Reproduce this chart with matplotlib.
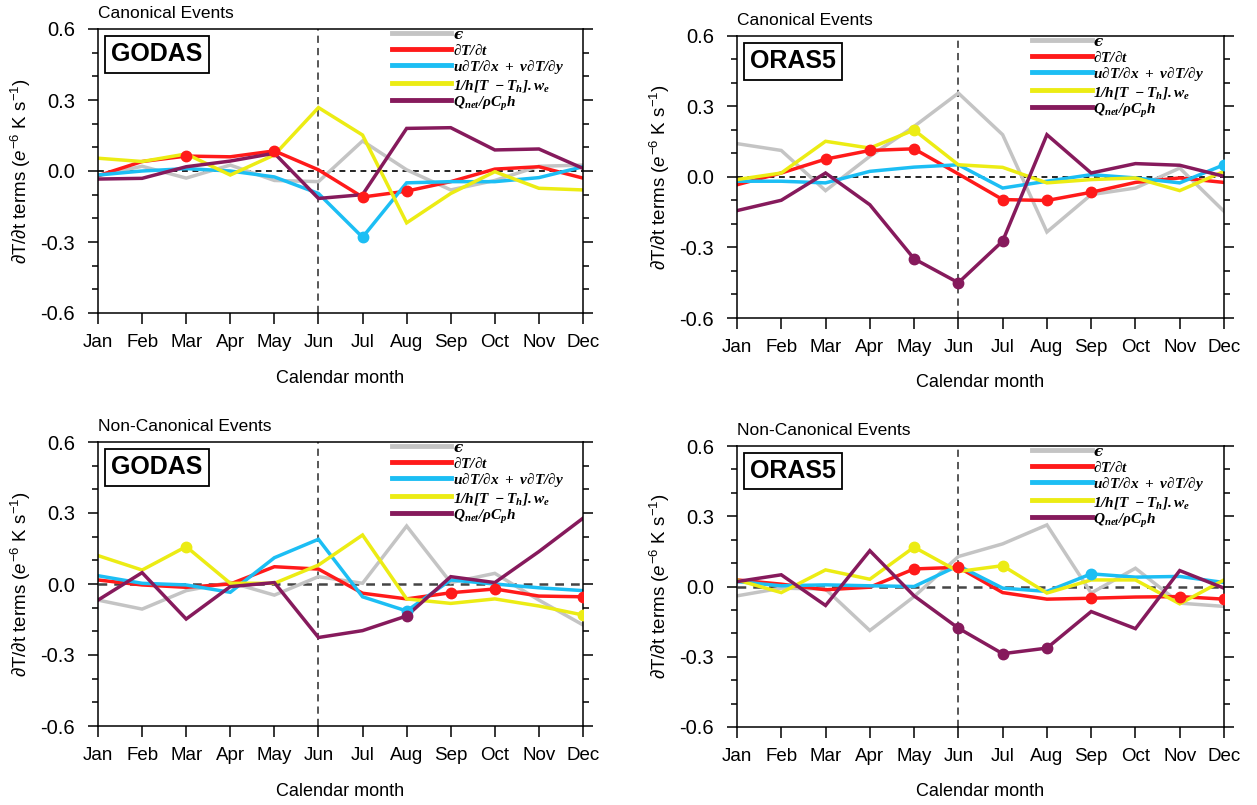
import matplotlib
matplotlib.use("Agg")
import matplotlib.pyplot as plt
from matplotlib.ticker import MultipleLocator, FormatStrFormatter

# ================= CONFIGURATION =================
plt.rcParams["font.family"] = ["Liberation Sans", "DejaVu Sans"]
plt.rcParams["mathtext.fontset"] = "custom"
plt.rcParams["mathtext.rm"] = "Liberation Sans"
plt.rcParams["mathtext.it"] = "Liberation Sans:italic"
plt.rcParams["mathtext.bf"] = "Liberation Serif:italic:bold"

FIG_W, FIG_H = 1257, 805

MONTHS = ["Jan", "Feb", "Mar", "Apr", "May", "Jun",
          "Jul", "Aug", "Sep", "Oct", "Nov", "Dec"]

TERM_LABELS = [
    "\u03f5",
    r"$\mathbf{\partial T/\partial t}$",
    r"$\mathbf{u\partial T/\partial x\ +\ v\partial T/\partial y}$",
    r"$\mathbf{1/h[T\ -T_h].w_e}$",
    r"$\mathbf{Q_{net}/\rho C_p h}$",
]
TERM_COLORS = ["#C4C4C4", "#FF1A1A", "#1CBEF4", "#ECEC14", "#861A5C"]

# --- GODAS, canonical events (heat budget terms, 1e-6 K/s) ---
god_can_eps = [-0.02, 0.02, -0.03, 0.025, -0.04, -0.045, 0.127, 0.005, -0.08, -0.04, 0.02, 0.025]
god_can_dtdt = [-0.02, 0.04, 0.063, 0.06, 0.085, 0.005, -0.11, -0.085, -0.045, 0.008, 0.018, -0.03]
god_can_adv = [-0.017, 0.0, 0.01, 0.0, -0.025, -0.095, -0.28, -0.05, -0.045, -0.045, -0.028, 0.018]
god_can_ent = [0.054, 0.04, 0.072, -0.017, 0.068, 0.268, 0.152, -0.219, -0.095, -0.003, -0.073, -0.08]
god_can_qnet = [-0.034, -0.031, 0.018, 0.042, 0.075, -0.116, -0.10, 0.18, 0.183, 0.089, 0.093, 0.011]
god_can_sig = [[], [2, 4, 6, 7], [6], [], []]

# --- ORAS5, canonical events ---
ora_can_eps = [0.142, 0.113, -0.058, 0.088, 0.215, 0.357, 0.18, -0.234, -0.075, -0.047, 0.038, -0.146]
ora_can_dtdt = [-0.033, 0.017, 0.076, 0.113, 0.12, 0.013, -0.096, -0.10, -0.065, -0.023, -0.004, -0.023]
ora_can_adv = [-0.018, -0.018, -0.025, 0.024, 0.042, 0.052, -0.047, -0.018, 0.01, -0.004, -0.025, 0.052]
ora_can_ent = [-0.011, 0.017, 0.152, 0.123, 0.20, 0.052, 0.041, -0.025, -0.011, -0.004, -0.058, 0.024]
ora_can_qnet = [-0.143, -0.099, 0.017, -0.118, -0.348, -0.45, -0.273, 0.18, 0.017, 0.057, 0.05, 0.003]
ora_can_sig = [[], [2, 3, 4, 6, 7, 8], [11], [4], [4, 5, 6]]

# --- GODAS, non-canonical events ---
god_non_eps = [-0.068, -0.106, -0.028, 0.007, -0.047, 0.031, 0.003, 0.245, 0.006, 0.045, -0.068, -0.173]
god_non_dtdt = [0.017, -0.004, -0.014, 0.0, 0.073, 0.063, -0.039, -0.063, -0.037, -0.021, -0.051, -0.054]
god_non_adv = [0.035, 0.003, -0.004, -0.035, 0.111, 0.189, -0.054, -0.114, 0.017, 0.0, -0.016, -0.028]
god_non_ent = [0.12, 0.059, 0.158, 0.003, 0.003, 0.08, 0.207, -0.063, -0.082, -0.063, -0.093, -0.131]
god_non_qnet = [-0.068, 0.048, -0.148, -0.011, 0.006, -0.226, -0.197, -0.135, 0.031, 0.006, 0.137, 0.278]
god_non_sig = [[], [8, 9, 11], [7], [2, 11], [7]]

# --- ORAS5, non-canonical events ---
ora_non_eps = [-0.04, -0.007, -0.011, -0.188, -0.043, 0.128, 0.182, 0.263, -0.028, 0.078, -0.071, -0.085]
ora_non_dtdt = [0.028, 0.01, -0.014, -0.003, 0.075, 0.082, -0.026, -0.054, -0.05, -0.045, -0.043, -0.054]
ora_non_adv = [0.021, 0.003, 0.007, 0.003, 0.0, 0.089, -0.007, -0.021, 0.054, 0.04, 0.043, 0.017]
ora_non_ent = [0.028, -0.026, 0.071, 0.031, 0.168, 0.064, 0.089, -0.028, 0.028, 0.028, -0.074, 0.028]
ora_non_qnet = [0.021, 0.05, -0.081, 0.153, -0.04, -0.178, -0.287, -0.263, -0.107, -0.18, 0.068, -0.007]
ora_non_sig = [[], [4, 5, 8, 10, 11], [8], [4, 6], [5, 6, 7]]
# =================================================


def px_rect(left, top, right, bottom):
    """Convert a pixel box (origin top-left) to a figure-fraction rect."""
    return [left / FIG_W, 1 - bottom / FIG_H, (right - left) / FIG_W, (bottom - top) / FIG_H]


def draw_panel(ax, title, product, terms, sig, zero_color, zero_lw):
    x = list(range(len(MONTHS)))

    ax.axvline(5, color="#4A4A4A", lw=1.3, dashes=(4, 2.8), zorder=1)
    ax.axhline(0, color=zero_color, lw=zero_lw, dashes=(3.5, 2.8), zorder=1)

    for vals, idx, color, label in zip(terms, sig, TERM_COLORS, TERM_LABELS):
        ax.plot(x, vals, color=color, lw=2.5, label=label, zorder=2,
                solid_joinstyle="miter")
        if idx:
            ax.plot([x[i] for i in idx], [vals[i] for i in idx], "o",
                    color=color, ms=7.5, zorder=3)

    ax.set_xlim(0, 11)
    ax.set_ylim(-0.6, 0.6)
    ax.set_xticks(x)
    ax.set_xticklabels(MONTHS)
    ax.yaxis.set_major_locator(MultipleLocator(0.3))
    ax.yaxis.set_minor_locator(MultipleLocator(0.1))
    ax.yaxis.set_major_formatter(FormatStrFormatter("%.1f"))

    ax.tick_params(axis="x", which="major", direction="out", length=8, width=1.1,
                   labelsize=13.5, pad=7, top=False)
    ax.tick_params(axis="y", which="major", direction="out", length=7.2, width=1.1,
                   labelsize=14.5, pad=9.5, left=True, right=True)
    ax.tick_params(axis="y", which="minor", direction="out", length=4.3, width=1.1,
                   left=True, right=True)
    for sp in ax.spines.values():
        sp.set_linewidth(1.1)

    ax.set_xlabel("Calendar month", fontsize=13)
    ax.xaxis.set_label_coords(0.5, -65 / 284)
    ax.xaxis.label.set_va("center")
    ax.set_ylabel(r"$\partial$T/$\partial$t terms ($e^{-6}$ K s$^{-1}$)", fontsize=13.5)
    ax.yaxis.set_label_coords(-0.158, 0.5)
    ax.yaxis.label.set_va("center")

    ax.text(0, 1 + 16 / 284, title, transform=ax.transAxes, ha="left", va="center",
            fontsize=12.5)
    ax.text(0.027, 0.953, product, transform=ax.transAxes, ha="left", va="top",
            fontsize=18, fontweight="bold", zorder=5,
            bbox=dict(boxstyle="square,pad=0.25", fc="white", ec="black", lw=1.3))

    leg = ax.legend(loc="upper left", bbox_to_anchor=(0.606, 1.009), frameon=False,
                    fontsize=11, handlelength=3.9, handletextpad=0.1,
                    handleheight=1.2, labelspacing=0.0, borderpad=0, borderaxespad=0)
    for line in leg.get_lines():
        line.set_linewidth(3.5)
    # epsilon key drawn as a plain glyph in a bold oblique face
    eps_text = leg.get_texts()[0]
    eps_text.set_family(["DejaVu Serif", "DejaVu Sans"])
    eps_text.set_weight("bold")
    eps_text.set_style("italic")


# ===================== MAIN ======================
if __name__ == "__main__":
    fig = plt.figure(figsize=(FIG_W / 100, FIG_H / 100), dpi=100)

    ax_tl = fig.add_axes(px_rect(98, 29, 583, 313))
    ax_tr = fig.add_axes(px_rect(737, 36, 1224, 318))
    ax_bl = fig.add_axes(px_rect(98, 442, 583, 726))
    ax_br = fig.add_axes(px_rect(737, 446, 1224, 727))

    draw_panel(ax_tl, "Canonical Events", "GODAS",
               [god_can_eps, god_can_dtdt, god_can_adv, god_can_ent, god_can_qnet],
               god_can_sig, "black", 1.2)
    draw_panel(ax_tr, "Canonical Events", "ORAS5",
               [ora_can_eps, ora_can_dtdt, ora_can_adv, ora_can_ent, ora_can_qnet],
               ora_can_sig, "black", 1.2)
    draw_panel(ax_bl, "Non-Canonical Events", "GODAS",
               [god_non_eps, god_non_dtdt, god_non_adv, god_non_ent, god_non_qnet],
               god_non_sig, "#454545", 1.8)
    draw_panel(ax_br, "Non-Canonical Events", "ORAS5",
               [ora_non_eps, ora_non_dtdt, ora_non_adv, ora_non_ent, ora_non_qnet],
               ora_non_sig, "#454545", 1.8)

    fig.savefig("out.png", dpi=100)
    plt.close(fig)
